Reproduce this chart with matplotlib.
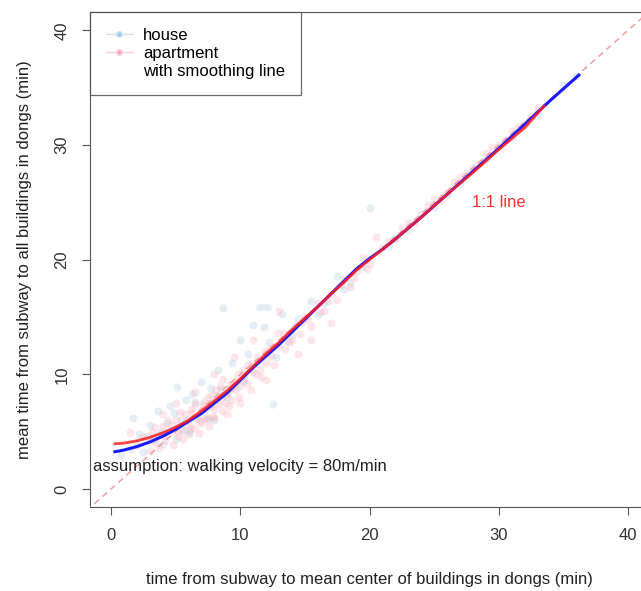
import matplotlib
matplotlib.use("Agg")
import matplotlib.pyplot as plt
from matplotlib.lines import Line2D

plt.rcParams["font.family"] = ["Liberation Sans", "DejaVu Sans"]

# scatter points (approximate)
house_x = [0.8, 1.5, 1.7, 2.2, 2.5, 3.0, 3.3, 3.6, 4.0, 4.3, 4.6, 5.0, 5.1, 5.4, 5.8, 6.0, 6.3,
           6.7, 7.0, 7.3, 7.7, 8.0, 8.3, 8.7, 9.0, 9.4, 10.0, 10.2, 10.6, 11.0, 11.5, 11.8, 12.1,
           12.5, 12.8, 13.2, 13.6, 14.5, 15.5, 16.5, 17.5, 18.5, 19.5, 20.0, 21.5, 23.0, 25.0,
           27.0, 29.0, 31.0, 33.0, 35.0, 36.0,
           2.8, 3.9, 4.9, 5.6, 6.5, 7.5, 8.5, 9.6, 10.8, 12.2, 14.0, 16.0, 18.0, 22.0, 26.0]
house_y = [3.0, 3.5, 6.2, 4.8, 3.2, 5.6, 4.4, 6.8, 3.9, 5.8, 7.2, 4.4, 8.9, 6.0, 7.8, 5.0, 8.3,
           6.4, 9.3, 7.0, 8.8, 6.0, 10.4, 15.8, 8.0, 11.0, 13.0, 9.4, 11.8, 14.3, 15.9, 14.1, 15.9,
           7.4, 11.5, 15.3, 12.9, 14.8, 16.4, 16.2, 18.6, 18.0, 19.4, 24.5, 21.2, 22.6, 24.6,
           26.6, 28.8, 30.6, 32.6, 35.2, 36.0,
           4.6, 5.0, 6.6, 5.1, 7.6, 6.1, 8.7, 9.1, 10.6, 12.8, 13.4, 15.2, 17.4, 21.9, 25.6]

apt_x = [2.5, 3.0, 3.2, 3.5, 3.8, 4.0, 4.2, 4.5, 4.8, 5.0, 5.2, 5.5, 5.7, 6.0, 6.0, 6.2, 6.4,
         6.6, 6.8, 7.0, 7.0, 7.2, 7.4, 7.6, 7.8, 8.0, 8.0, 8.2, 8.4, 8.6, 8.8, 9.0, 9.0, 9.2,
         9.4, 9.6, 9.8, 10.0, 10.0, 10.3, 10.6, 10.8, 11.0, 11.3, 11.6, 12.0, 12.3, 12.6, 13.0,
         13.4, 13.8, 14.2, 14.6, 15.0, 15.5, 16.0, 16.5, 17.0, 17.5, 18.0, 18.5, 19.0, 19.5,
         20.0, 21.0, 22.0, 23.0, 24.0, 25.0, 26.0, 27.0, 28.0, 29.0, 30.0, 31.0, 32.0, 33.0,
         20.5, 17.0, 15.5, 13.0, 6.5, 8.0, 5.0, 4.0, 3.0, 2.0, 1.5, 9.5, 11.0, 12.0, 14.5,
         3.4, 3.7, 4.1, 4.4, 4.7, 5.1, 5.3, 5.6, 5.9, 6.1, 6.3, 6.5, 6.9, 7.1, 7.3, 7.5, 7.7,
         7.9, 8.1, 8.3, 8.5, 8.7, 8.9, 9.1, 9.3, 9.7, 9.9, 10.2, 10.5, 10.9, 11.2, 11.5, 11.9,
         12.4, 12.9, 13.5, 14.0, 14.8, 15.2, 16.2, 16.8, 17.8, 18.8, 19.8, 21.5, 22.5, 23.5,
         24.5, 25.5, 26.5, 27.5, 28.5, 29.5, 30.5, 31.5, 32.5]
apt_y = [4.5, 4.2, 5.0, 4.0, 4.8, 5.5, 4.3, 5.0, 3.8, 6.0, 4.6, 5.2, 6.5, 4.8, 5.6, 7.0, 5.3,
         6.2, 4.9, 6.8, 5.8, 7.6, 6.3, 5.5, 8.2, 7.0, 6.2, 7.8, 9.0, 6.8, 7.5, 8.4, 6.5, 9.2,
         7.8, 8.6, 10.0, 9.0, 7.5, 9.6, 10.8, 8.6, 10.2, 11.5, 9.8, 11.0, 12.2, 10.8, 12.5,
         13.6, 12.8, 14.2, 13.5, 15.0, 14.2, 16.2, 15.5, 17.0, 16.5, 18.3, 17.6, 19.0, 20.2,
         19.6, 21.0, 21.8, 23.2, 24.0, 25.3, 25.8, 27.2, 28.0, 29.3, 30.0, 31.2, 31.8, 33.2,
         22.0, 14.5, 13.0, 15.5, 8.5, 10.0, 7.5, 6.5, 3.3, 3.8, 5.0, 11.5, 13.0, 9.5, 11.8,
         5.4, 3.6, 4.7, 6.0, 5.6, 5.0, 6.7, 4.4, 6.0, 5.2, 6.6, 7.4, 5.9, 7.3, 6.1, 8.0, 7.2,
         6.4, 8.6, 7.4, 8.0, 9.6, 8.2, 7.2, 8.8, 9.4, 8.0, 10.4, 9.2, 11.0, 10.0, 10.4, 12.0,
         11.6, 13.6, 12.2, 13.0, 14.6, 14.8, 15.4, 16.4, 17.8, 18.4, 19.2, 21.6, 22.8, 23.2,
         24.8, 25.2, 26.8, 27.6, 28.4, 29.8, 30.4, 31.6, 32.4]

# smoothing lines
house_fit_x = [0.3, 1, 2, 3, 4, 5, 6, 7, 8, 9, 10, 11, 12, 13, 14, 15, 16, 17, 18, 19, 20,
               21, 22, 24, 26, 28, 30, 32, 34, 36.2]
house_fit_y = [3.25, 3.4, 3.7, 4.1, 4.6, 5.2, 5.9, 6.6, 7.5, 8.4, 9.5, 10.6, 11.6, 12.6, 13.7,
               14.8, 15.9, 17.0, 18.1, 19.2, 20.1, 20.9, 21.8, 23.7, 25.7, 27.7, 29.7, 31.8,
               33.9, 36.1]
apt_fit_x = [0.3, 1, 2, 3, 4, 5, 6, 7, 8, 9, 10, 11, 12, 13, 14, 15, 16, 17, 18, 19, 20, 21,
             22, 24, 26, 28, 30, 32, 33.5]
apt_fit_y = [3.95, 4.0, 4.2, 4.5, 4.9, 5.4, 6.0, 6.8, 7.7, 8.6, 9.6, 10.7, 11.8, 12.8, 13.9,
             14.9, 15.9, 17.0, 18.0, 19.1, 20.0, 20.9, 21.8, 23.7, 25.7, 27.6, 29.6, 31.5, 33.4]

ticks = [0, 10, 20, 30, 40]

fig = plt.figure(figsize=(6.41, 5.91), dpi=100)
ax = fig.add_axes([0.1409, 0.1415, 0.8711, 0.8382])
ax.set_xlim(-1.6, 41.6)
ax.set_ylim(-1.6, 41.6)

house_col = "#a9c8dc"
apt_col = "#f7a8b8"
ax.scatter(house_x, house_y, s=34, color=house_col, alpha=0.3, linewidths=0, zorder=2)
ax.scatter(apt_x, apt_y, s=34, color=apt_col, alpha=0.28, linewidths=0, zorder=2)

# 1:1 line
ax.plot([-5, 50], [-5, 50], color="#f0a0a0", lw=1.1, ls=(0, (4, 3)), zorder=3)

ax.plot(house_fit_x, house_fit_y, color="#1a1aff", lw=2.2, zorder=4)
ax.plot(apt_fit_x, apt_fit_y, color="#ff2020", lw=2.0, alpha=0.85, zorder=5)

ax.text(30, 25, "1:1 line", color="#ff3030", fontsize=12, ha="center", va="center")
ax.text(10, 2, "assumption: walking velocity = 80m/min", color="#222222", fontsize=12,
        ha="center", va="center")

for s in ax.spines.values():
    s.set_color("#555555")
ax.spines["right"].set_visible(False)

ax.set_xticks(ticks)
ax.set_yticks(ticks)
ax.set_yticklabels([str(t) for t in ticks], rotation=90, va="center")
ax.tick_params(direction="out", length=6, color="#555555", labelcolor="#333333",
               labelsize=12, pad=9)
ax.set_xlabel("time from subway to mean center of buildings in dongs (min)", fontsize=12,
              color="#222222", labelpad=21)
ax.set_ylabel("mean time from subway to all buildings in dongs (min)", fontsize=12,
              color="#222222", labelpad=16)

handles = [
    Line2D([], [], color="#cfe4f2", lw=1, marker="o", markersize=4, markerfacecolor="#9ecae8"),
    Line2D([], [], color="#fbd0da", lw=1, marker="o", markersize=4, markerfacecolor="#f7a8b8"),
    Line2D([], [], color="none"),
]
leg = ax.legend(handles, ["house", "apartment", "with smoothing line"], loc="upper left",
                bbox_to_anchor=(0, 1), fontsize=12, frameon=True, fancybox=False,
                borderaxespad=0, handlelength=1.6, labelspacing=0.18, borderpad=0.95,
                handletextpad=0.6)
leg.get_frame().set_edgecolor("#444444")
leg.get_frame().set_linewidth(0.9)

fig.savefig("out.png", dpi=100)
